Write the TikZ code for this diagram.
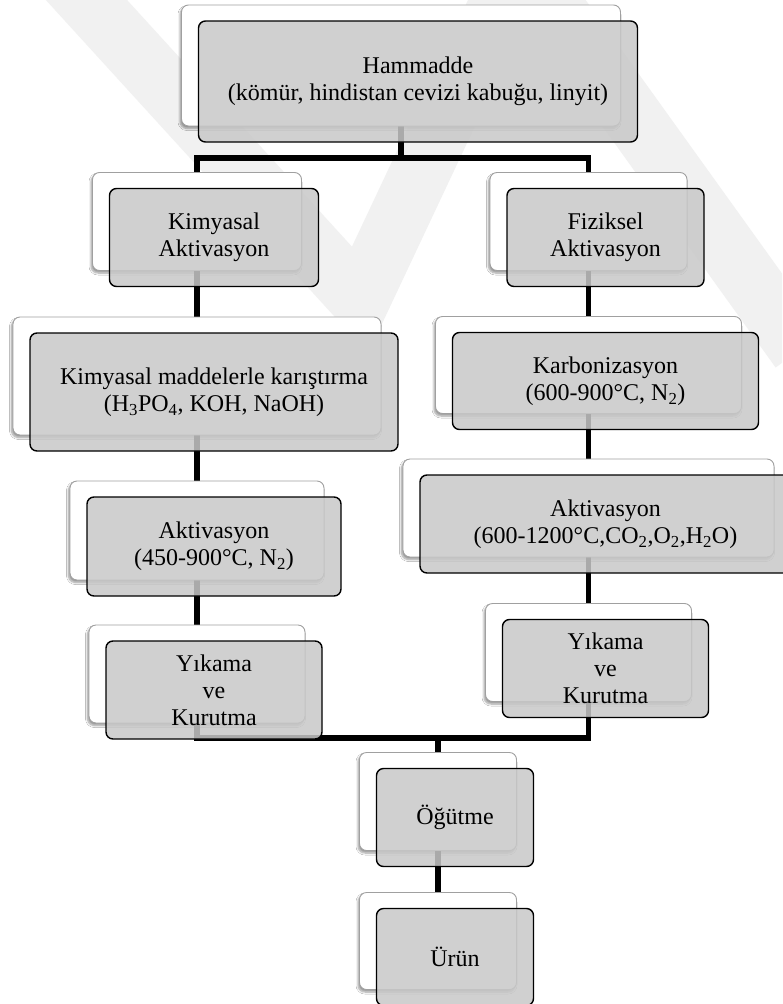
\documentclass[tikz,border=0pt]{standalone}
\usepackage{fontspec}
\setmainfont{Liberation Serif}
\usetikzlibrary{shadows.blur}
\definecolor{boxgray}{HTML}{C8C8C8}
\definecolor{backedge}{HTML}{A0A0A0}
\definecolor{wmark}{HTML}{F1F1F1}
\pgfdeclarelayer{paper}
\pgfdeclarelayer{lines}
\pgfsetlayers{paper,lines,main}
\tikzset{
  backbox/.style={draw=backedge, line width=0.9pt, fill=white, rounded corners=7pt,
    inner sep=0pt,
    blur shadow={shadow xshift=-1.5pt, shadow yshift=-2.5pt, shadow opacity=40,
      shadow blur steps=6, shadow blur radius=2pt}},
  frontbox/.style={draw=black, line width=1.4pt, fill=boxgray, fill opacity=0.85,
    text opacity=1, rounded corners=7pt, align=center, inner sep=0pt,
    font=\fontsize{24}{27}\selectfont},
  conn/.style={line width=5.5pt, black},
  band/.style={line width=60pt, wmark}
}
% #1 name, #2/#3 centre of the back card, #4 width, #5 height, #6 label
\newcommand\procbox[6]{%
  \node[backbox, minimum width=#4pt, minimum height=#5pt] (#1-b) at (#2,#3) {};
  \node[frontbox, minimum width=#4pt, minimum height=#5pt] (#1)
    at ([xshift=17pt,yshift=-16pt]#1-b.center) {#6};
}
\begin{document}
\begin{tikzpicture}[x=1pt,y=-1pt]
\useasboundingbox (0,0) rectangle (782,1004);

\procbox{ham}{401}{65.5}{439}{121}{Hammadde\\(kömür, hindistan cevizi kabuğu, linyit)}
\procbox{kim}{197}{221.5}{209}{98}{Kimyasal\\Aktivasyon}
\procbox{fiz}{588.5}{221.5}{197}{98}{Fiziksel\\Aktivasyon}
\procbox{kmk}{197}{376}{368}{118}{Kimyasal maddelerle karıştırma\\(H\textsubscript{3}PO\textsubscript{4}, KOH, NaOH)}
\procbox{kar}{588.5}{365}{306}{97}{Karbonizasyon\\(600-900°C, N\textsubscript{2})}
\procbox{akL}{197}{530.5}{254}{99}{Aktivasyon\\(450-900°C, N\textsubscript{2})}
\procbox{akR}{588.5}{508}{371}{98}{Aktivasyon\\(600-1200°C,CO\textsubscript{2},O\textsubscript{2},H\textsubscript{2}O)}
\procbox{ykL}{197}{674}{216}{98}{Yıkama\\ve\\Kurutma}
\procbox{ykR}{588.5}{652.5}{206}{98}{Yıkama\\ve\\Kurutma}
\procbox{ogu}{438}{801.5}{157}{98}{Öğütme}
\procbox{urun}{438}{941}{157}{97}{Ürün}

\coordinate (split) at (0,158);
\coordinate (join) at (0,738);

% paper with the faint zig-zag watermark
\begin{pgfonlayer}{paper}
  \fill[white] (0,0) rectangle (782,1004);
  \begin{scope}
    \clip (0,0) rectangle (782,1004);
    \draw[band] (50,-40) -- (360,300) -- (520,-40) -- (800,350);
  \end{scope}
\end{pgfonlayer}

% connectors run from card centre to card centre, under the cards
\begin{pgfonlayer}{lines}
  \draw[conn] (ham-b.center) -- (ham-b.center |- split) -| (kim-b.center);
  \draw[conn] (ham-b.center |- split) -| (fiz-b.center);
  \draw[conn] (kim-b.center) -- (kmk-b.center) -- (akL-b.center) -- (ykL-b.center)
    -- (ykL-b.center |- join) -- (ykR-b.center |- join) -- (ykR-b.center);
  \draw[conn] (fiz-b.center) -- (kar-b.center) -- (akR-b.center) -- (ykR-b.center);
  \draw[conn] (ogu-b.center |- join) -- (ogu-b.center) -- (urun-b.center);
\end{pgfonlayer}
\end{tikzpicture}
\end{document}
